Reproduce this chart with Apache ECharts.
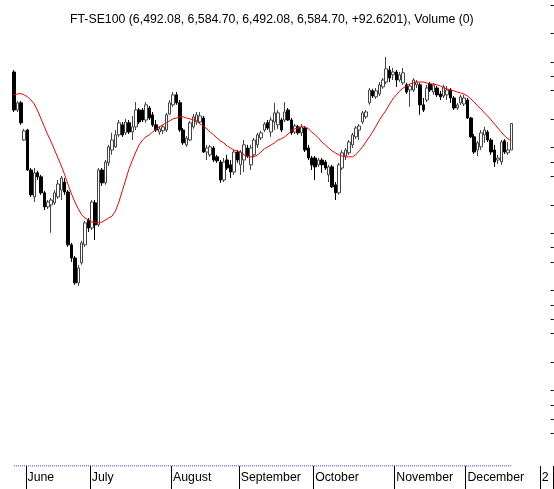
<!DOCTYPE html>
<html>
<head>
<meta charset="utf-8">
<title>FT-SE100</title>
<script src="https://cdn.jsdelivr.net/npm/echarts@6/dist/echarts.min.js"></script>
<style>
html, body { margin: 0; padding: 0; background: #fff; }
#ftse_chart { width: 554px; height: 489px; }
</style>
</head>
<body>
<div id="ftse_chart"></div>
<script>
// trading-day axis: month names and how many sessions each month gets on the axis
const monthNames = ["May", "June", "July", "August", "September", "October", "November", "December", "2"];
const monthLengths = [4, 19, 24, 20, 22, 24, 21, 22, 4];
// weekly minor ticks (category index where the week starts)
const weekStarts = [8, 13, 18, 28, 33, 38, 43, 53, 58, 63, 72, 77, 82, 94, 99, 104, 109, 118, 123, 128, 139, 144, 149, 154];
// price tick marks on the right edge (no labels shown)
const priceTicks = [7000, 6900, 6800, 6750, 6700, 6600, 6500, 6450, 6400, 6300, 6200, 6150, 6100, 6000, 5950, 5900, 5850, 5750, 5650, 5600, 5550, 5500];

const open = [6765,6632,6657,6527,6562,6422,6328,6412,6398,6342,
    6293,6300,6307,6328,6352,6380,6345,6160,6114,6027,
    6097,6160,6247,6219,6307,6230,6422,6377,6447,6492,
    6503,6545,6580,6552,6587,6555,6573,6632,6632,6597,
    6639,6615,6580,6555,6559,6562,6618,6650,6685,6657,
    6562,6510,6527,6573,6590,6590,6604,6485,6475,6499,
    6468,6450,6387,6457,6440,6415,6485,6440,6457,6499,
    6440,6475,6510,6534,6562,6587,6555,6590,6580,6597,
    6597,6632,6597,6555,6573,6552,6569,6499,6464,6464,
    6440,6457,6450,6405,6433,6370,6342,6429,6471,6482,
    6510,6538,6562,6590,6608,6657,6699,6678,6688,6713,
    6730,6772,6755,6765,6737,6727,6720,6702,6702,6720,
    6720,6650,6667,6723,6695,6709,6688,6681,6685,6702,
    6674,6639,6657,6653,6667,6604,6538,6492,6503,6545,
    6555,6527,6492,6457,6450,6524,6482,6492.08];
const close = [6632,6657,6587,6559,6422,6335,6412,6398,6342,6293,
    6310,6317,6342,6373,6394,6345,6160,6114,6027,6079,
    6167,6237,6219,6310,6230,6422,6377,6450,6503,6527,
    6545,6587,6545,6590,6555,6573,6632,6590,6597,6650,
    6604,6580,6562,6566,6573,6615,6657,6685,6657,6562,
    6517,6534,6587,6608,6615,6611,6485,6499,6503,6457,
    6454,6387,6450,6429,6415,6485,6457,6485,6510,6471,
    6499,6527,6545,6552,6583,6569,6597,6622,6622,6562,
    6625,6597,6552,6576,6552,6573,6492,6464,6440,6433,
    6457,6440,6429,6433,6363,6342,6440,6482,6492,6520,
    6545,6569,6576,6622,6625,6702,6681,6699,6720,6737,
    6776,6744,6765,6737,6755,6762,6695,6716,6737,6730,
    6650,6632,6709,6702,6720,6685,6678,6713,6702,6674,
    6639,6650,6678,6674,6604,6538,6485,6517,6552,6562,
    6527,6485,6450,6464,6520,6485,6492,6584.70];
const low = [6625,6625,6580,6524,6419,6328,6310,6387,6335,6282,
    6286,6202,6300,6321,6317,6335,6153,6100,6020,6016,
    6090,6153,6205,6212,6177,6223,6366,6370,6436,6475,
    6499,6538,6538,6545,6548,6527,6562,6583,6590,6587,
    6597,6573,6555,6545,6548,6555,6615,6643,6650,6555,
    6510,6503,6524,6566,6580,6583,6482,6457,6468,6450,
    6447,6377,6380,6422,6394,6405,6447,6405,6415,6464,
    6422,6468,6499,6527,6555,6562,6538,6562,6566,6555,
    6590,6594,6545,6548,6545,6541,6485,6457,6422,6387,
    6433,6412,6422,6380,6359,6317,6335,6422,6457,6475,
    6499,6531,6527,6583,6601,6650,6674,6671,6681,6706,
    6723,6730,6737,6713,6730,6720,6688,6643,6695,6709,
    6615,6625,6660,6695,6685,6678,6667,6674,6667,6657,
    6632,6632,6650,6646,6601,6534,6478,6471,6492,6517,
    6520,6475,6433,6443,6440,6478,6475,6492.08];
const high = [6772,6664,6664,6566,6566,6429,6429,6419,6405,6349,
    6317,6324,6352,6387,6401,6394,6352,6167,6121,6090,
    6174,6244,6254,6317,6317,6429,6429,6457,6510,6552,
    6562,6597,6590,6601,6597,6611,6660,6639,6639,6660,
    6646,6625,6597,6576,6580,6622,6667,6695,6695,6667,
    6569,6541,6594,6618,6625,6625,6611,6510,6510,6506,
    6475,6457,6464,6475,6457,6492,6492,6492,6527,6510,
    6510,6534,6552,6559,6590,6597,6608,6657,6632,6604,
    6660,6639,6604,6583,6580,6583,6576,6510,6471,6471,
    6464,6464,6457,6440,6440,6380,6447,6492,6499,6527,
    6552,6576,6583,6629,6632,6709,6706,6709,6730,6744,
    6818,6786,6779,6772,6765,6779,6727,6723,6744,6737,
    6727,6674,6720,6730,6727,6716,6699,6720,6716,6709,
    6681,6657,6685,6685,6674,6608,6548,6524,6562,6573,
    6562,6534,6510,6475,6527,6530,6520,6584.70];
// moving average line (red)
const ma = [6685,6688,6690,6685,6678,6667,6653,6629,6601,6573,
    6545,6520,6492,6464,6436,6405,6370,6338,6310,6286,
    6265,6254,6247,6240,6237,6237,6240,6247,6254,6261,
    6279,6310,6349,6387,6426,6457,6485,6510,6527,6538,
    6545,6555,6566,6573,6580,6587,6594,6601,6604,6608,
    6608,6604,6601,6597,6594,6583,6576,6566,6555,6545,
    6534,6524,6517,6506,6499,6492,6489,6485,6475,6468,
    6468,6468,6475,6485,6496,6503,6510,6517,6527,6531,
    6538,6548,6559,6566,6569,6573,6573,6566,6555,6545,
    6534,6520,6510,6499,6489,6482,6475,6471,6468,6468,
    6468,6475,6489,6503,6520,6538,6555,6576,6597,6615,
    6632,6653,6671,6685,6699,6709,6716,6723,6727,6730,
    6730,6730,6727,6723,6723,6720,6716,6709,6706,6702,
    6699,6695,6692,6688,6681,6671,6660,6646,6636,6622,
    6611,6597,6583,6569,6555,6541,6531,6524];
// "Volume (0)": every session has zero volume
const volume = close.map(() => 0);

let days = [];
let monthStart = {};
monthNames.forEach((m, k) => {
    if (k > 0) monthStart[days.length] = m;
    for (let d = 1; d <= monthLengths[k]; d++) {
        days.push(m + " " + d);
    }
});
let candles = open.map((o, i) => [o, close[i], low[i], high[i]]);

let font = "'Liberation Sans', Arial, sans-serif";
let chart = echarts.init(document.getElementById("ftse_chart"));
chart.setOption({
    animation: false,
    backgroundColor: "#ffffff",
    title: {
        text: "FT-SE100 (6,492.08, 6,584.70, 6,492.08, 6,584.70, +92.6201), Volume (0)",
        left: 65,
        top: 9,
        textStyle: { fontSize: 12.3, fontWeight: "normal", color: "#000", fontFamily: font }
    },
    grid: {
        left: 12.3,
        top: 0,
        width: 541.4,
        height: 466,
        containLabel: false,
        outerBoundsMode: "none"
    },
    xAxis: [
        {
            type: "category",
            data: days,
            boundaryGap: true,
            axisLine: { show: false },
            axisTick: {
                show: true,
                length: 23,
                interval: (i) => monthStart[i] !== undefined,
                lineStyle: { color: "#000", width: 1 }
            },
            axisLabel: {
                interval: (i) => monthStart[i] !== undefined,
                formatter: (v) => v.split(" ")[0],
                align: "left",
                margin: 6,
                fontSize: 12.3,
                color: "#000",
                fontFamily: font
            },
            splitLine: { show: false }
        },
        {
            type: "category",
            data: days,
            boundaryGap: true,
            axisLine: { show: false },
            axisTick: {
                show: true,
                length: 6,
                interval: (i) => weekStarts.indexOf(i) >= 0,
                lineStyle: { color: "#000", width: 1 }
            },
            axisLabel: { show: false },
            splitLine: { show: false }
        }
    ],
    yAxis: [
        {
            type: "value",
            position: "right",
            min: 5386,
            max: 7017,
            axisLine: { show: false },
            axisTick: {
                show: true,
                inside: true,
                length: 3,
                customValues: priceTicks,
                lineStyle: { color: "#000" }
            },
            axisLabel: { show: false },
            splitLine: { show: false }
        },
        {
            type: "value",
            min: 0,
            max: 1,
            show: false
        }
    ],
    series: [
        {
            name: "FT-SE100",
            type: "candlestick",
            data: candles,
            barWidth: 3,
            itemStyle: {
                color: "#ffffff",
                color0: "#000000",
                borderColor: "#444444",
                borderColor0: "#000000",
                borderWidth: 1
            },
            z: 2
        },
        {
            name: "MA",
            type: "line",
            data: ma,
            symbol: "none",
            lineStyle: { color: "#ff0000", width: 1 },
            z: 3
        },
        {
            name: "Volume",
            type: "line",
            data: volume,
            yAxisIndex: 1,
            symbol: "none",
            lineStyle: { color: "#0000ff", width: 1, type: "dotted" },
            z: 1
        }
    ]
});
window.addEventListener("resize", function() {
    chart.resize();
});
</script>
</body>
</html>
